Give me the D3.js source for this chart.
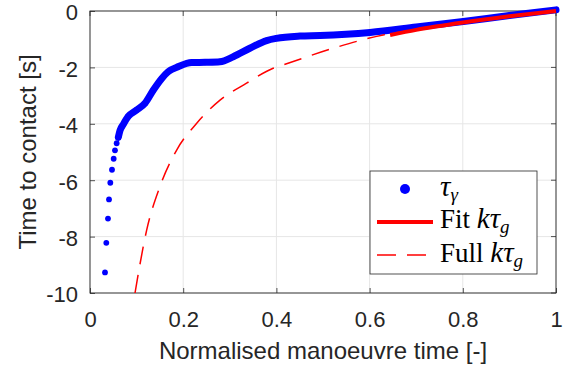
<!DOCTYPE html>
<html>
<head>
<meta charset="utf-8">
<script src="https://cdn.jsdelivr.net/npm/d3@7/dist/d3.min.js"></script>
<style>
  body { margin: 0; background: #fff; }
  figure { margin: 0; }
  svg { display: block; }
</style>
</head>
<body>
<figure id="chart"></figure>
<script>
// tau_gamma samples: normalised manoeuvre time vs time to contact [s]
const tauX = [0.0322, 0.035, 0.0386, 0.0408, 0.0436, 0.0472, 0.0508, 0.0536, 0.0572, 0.0608,
  0.0644, 0.0715, 0.082, 0.100, 0.118, 0.136, 0.154, 0.168, 0.190, 0.218, 0.247, 0.279,
  0.3075, 0.343, 0.379, 0.400, 0.4506, 0.4936, 0.601, 0.700, 0.801, 0.900, 1.0];
const tauY = [-9.27, -8.22, -7.36, -6.68, -6.09, -5.63, -5.24, -4.94, -4.69, -4.48,
  -4.24, -4.02, -3.74, -3.51, -3.27, -2.80, -2.39, -2.15, -1.97, -1.83, -1.82, -1.80,
  -1.62, -1.32, -1.05, -0.97, -0.89, -0.87, -0.76, -0.57, -0.37, -0.16, 0.04];
// index where the markers run together into a solid band
const denseStart = 9;

// fitted k*tau_g over the fit window
const fitX = [0.644, 0.700, 0.800, 0.900, 1.0];
const fitY = [-0.85, -0.67, -0.41, -0.19, 0.0];

// full k*tau_g
const fullX = [0.0966, 0.1216, 0.150, 0.186, 0.229, 0.279, 0.336, 0.393, 0.415, 0.522, 0.629, 0.700, 0.800, 0.900, 1.0];
const fullY = [-10.0, -7.77, -6.23, -4.93, -3.98, -3.16, -2.56, -2.03, -1.91, -1.32, -0.85, -0.67, -0.41, -0.19, 0.0];

const xTicks = [0, 0.2, 0.4, 0.6, 0.8, 1];
const xTickLabels = ["0", "0.2", "0.4", "0.6", "0.8", "1"];
const yTicks = [0, -2, -4, -6, -8, -10];
const yTickLabels = ["0", "-2", "-4", "-6", "-8", "-10"];

const width = 568, height = 367;
const margin = { top: 11, right: 12, bottom: 74, left: 90 };
const w = width - margin.left - margin.right;
const h = height - margin.top - margin.bottom;
const axisColor = "#262626";
const sans = "'Liberation Sans', Arial, Helvetica, sans-serif";
const serif = "'Liberation Serif', 'Times New Roman', serif";

const svg = d3.select("figure#chart")
  .append("svg")
  .attr("width", width)
  .attr("height", height);

const g = svg.append("g")
  .attr("transform", "translate(" + margin.left + "," + margin.top + ")");

const x = d3.scaleLinear().domain([0, 1]).range([0, w]);
const y = d3.scaleLinear().domain([-10, 0]).range([h, 0]);

g.append("clipPath").attr("id", "plotclip")
  .append("rect").attr("width", w).attr("height", h);

// grid
g.append("g").selectAll("line.gx")
  .data(xTicks)
  .enter().append("line")
  .attr("x1", d => x(d)).attr("x2", d => x(d))
  .attr("y1", 0).attr("y2", h)
  .attr("stroke", "#e6e6e6").attr("stroke-width", 1);
g.append("g").selectAll("line.gy")
  .data(yTicks)
  .enter().append("line")
  .attr("x1", 0).attr("x2", w)
  .attr("y1", d => y(d)).attr("y2", d => y(d))
  .attr("stroke", "#e6e6e6").attr("stroke-width", 1);

// axes
const xAxis = g.append("g")
  .attr("transform", "translate(0," + h + ")")
  .call(d3.axisBottom(x).tickValues(xTicks).tickFormat((d, i) => xTickLabels[i])
    .tickSizeInner(-5).tickSizeOuter(0).tickPadding(18));
const yAxis = g.append("g")
  .call(d3.axisLeft(y).tickValues(yTicks).tickFormat((d, i) => yTickLabels[i])
    .tickSizeInner(-5).tickSizeOuter(0).tickPadding(12));
[xAxis, yAxis].forEach(a => {
  a.select(".domain").remove();
  a.selectAll("line").attr("stroke", axisColor).attr("stroke-width", 0.8);
  a.selectAll("text").attr("fill", axisColor)
    .style("font-family", sans).style("font-size", "22px");
});
yAxis.selectAll("text").attr("dy", "0.4em");

// mirrored ticks on top and right
g.append("g").selectAll("line")
  .data(xTicks).enter().append("line")
  .attr("x1", d => x(d)).attr("x2", d => x(d)).attr("y1", 0).attr("y2", 5)
  .attr("stroke", axisColor).attr("stroke-width", 0.8);
g.append("g").selectAll("line")
  .data(yTicks).enter().append("line")
  .attr("x1", w).attr("x2", w - 5).attr("y1", d => y(d)).attr("y2", d => y(d))
  .attr("stroke", axisColor).attr("stroke-width", 0.8);

g.append("rect")
  .attr("width", w).attr("height", h)
  .attr("fill", "none").attr("stroke", axisColor).attr("stroke-width", 0.9);

// tau_gamma markers
const tauData = tauX.map((d, i) => ({ x: d, y: tauY[i] }));
g.append("path")
  .datum(tauData.slice(denseStart))
  .attr("fill", "none")
  .attr("stroke", "#0000ff")
  .attr("stroke-width", 7)
  .attr("stroke-linecap", "round")
  .attr("stroke-linejoin", "round")
  .attr("d", d3.line().x(d => x(d.x)).y(d => y(d.y)).curve(d3.curveMonotoneX));
g.append("g").selectAll("circle")
  .data(tauData)
  .enter().append("circle")
  .attr("cx", d => x(d.x))
  .attr("cy", d => y(d.y))
  .attr("r", 2.9)
  .attr("fill", "#0000ff");

// fit and full k*tau_g
g.append("path")
  .datum(fitX.map((d, i) => ({ x: d, y: fitY[i] })))
  .attr("fill", "none")
  .attr("stroke", "#ff0000")
  .attr("stroke-width", 4)
  .attr("d", d3.line().x(d => x(d.x)).y(d => y(d.y)).curve(d3.curveMonotoneX));
g.append("path")
  .datum(fullX.map((d, i) => ({ x: d, y: fullY[i] })))
  .attr("clip-path", "url(#plotclip)")
  .attr("fill", "none")
  .attr("stroke", "#ff0000")
  .attr("stroke-width", 1.5)
  .attr("stroke-dasharray", "18,11")
  .attr("d", d3.line().x(d => x(d.x)).y(d => y(d.y)).curve(d3.curveMonotoneX));

// axis labels
svg.append("text")
  .attr("x", margin.left + w / 2).attr("y", 359)
  .attr("text-anchor", "middle")
  .attr("fill", axisColor)
  .style("font-family", sans).style("font-size", "24px")
  .text("Normalised manoeuvre time [-]");
svg.append("text")
  .attr("transform", "translate(36," + (margin.top + h / 2) + ") rotate(-90)")
  .attr("text-anchor", "middle")
  .attr("fill", axisColor)
  .style("font-family", sans).style("font-size", "24px")
  .text("Time to contact [s]");

// legend
const leg = svg.append("g");
leg.append("rect")
  .attr("x", 370).attr("y", 171).attr("width", 167).attr("height", 103)
  .attr("fill", "#fff").attr("stroke", axisColor).attr("stroke-width", 0.8);
leg.append("circle").attr("cx", 405).attr("cy", 189).attr("r", 5).attr("fill", "#0000ff");
leg.append("line").attr("x1", 377).attr("x2", 433).attr("y1", 222).attr("y2", 222)
  .attr("stroke", "#ff0000").attr("stroke-width", 4);
leg.append("line").attr("x1", 377).attr("x2", 426).attr("y1", 255).attr("y2", 255)
  .attr("stroke", "#ff0000").attr("stroke-width", 1.5).attr("stroke-dasharray", "19,11");

function legendText(yPos, prefix, main, sub) {
  const t = leg.append("text")
    .attr("x", 440).attr("y", yPos)
    .attr("fill", "#000")
    .style("font-family", serif).style("font-size", "27px");
  if (prefix) t.append("tspan").text(prefix);
  t.append("tspan").style("font-style", "italic").style("font-size", "29px").text(main);
  t.append("tspan").attr("dy", 5).style("font-style", "italic").style("font-size", "19px").text(sub);
}
legendText(196, "", "τ", "γ");
legendText(228, "Fit ", "kτ", "g");
legendText(262, "Full ", "kτ", "g");
</script>
</body>
</html>
